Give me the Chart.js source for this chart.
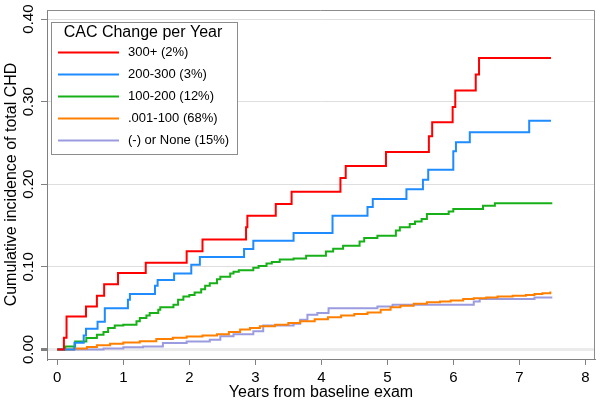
<!DOCTYPE html>
<html>
<head>
<meta charset="utf-8">
<script src="https://cdn.jsdelivr.net/npm/chart.js@4/dist/chart.umd.min.js"></script>
<style>
  html, body { margin: 0; padding: 0; background: #fff; }
  #wrap { width: 601px; height: 404px; }
</style>
</head>
<body>
<div id="wrap"><canvas id="myChart" width="601" height="404"></canvas></div>
<script>
// Series: time (years) and cumulative incidence after each step
const seriesLabels = ["300+ (2%)", "200-300 (3%)", "100-200 (12%)", ".001-100 (68%)", "(-) or None (15%)"];
const seriesColors = ["#ff0000", "#1e8cff", "#18b018", "#ff8000", "#9b9be0"];

const redTimes = [0, 0.10, 0.14, 0.435, 0.60, 0.71, 0.92, 1.34, 1.96, 2.20, 2.86, 2.88, 3.31, 3.55, 4.29, 4.37, 4.98, 5.63, 5.68, 5.99, 6.03, 6.34, 6.39, 7.48];
const redValues = [0, 0.014, 0.040, 0.052, 0.065, 0.079, 0.0925, 0.105, 0.119, 0.133, 0.148, 0.162, 0.176, 0.191, 0.2075, 0.222, 0.239, 0.258, 0.275, 0.2935, 0.3135, 0.333, 0.353, 0.353];

const blueTimes = [0, 0.26, 0.40, 0.435, 0.61, 0.72, 1.07, 1.10, 1.48, 1.52, 1.77, 2.03, 2.16, 2.83, 2.97, 3.58, 4.17, 4.70, 4.78, 5.29, 5.54, 5.62, 6.00, 6.04, 6.25, 7.15, 7.48];
const blueValues = [0, 0.008, 0.017, 0.025, 0.0335, 0.050, 0.060, 0.067, 0.077, 0.084, 0.092, 0.1025, 0.112, 0.1215, 0.1315, 0.141, 0.162, 0.1725, 0.182, 0.194, 0.2055, 0.2175, 0.240, 0.251, 0.263, 0.277, 0.277];

const greenTimes = [0, 0.12, 0.27, 0.44, 0.60, 0.70, 0.77, 0.87, 1.00, 1.20, 1.25, 1.35, 1.40, 1.53, 1.56, 1.76, 1.83, 1.91, 2.00, 2.08, 2.18, 2.24, 2.31, 2.42, 2.47, 2.62, 2.67, 2.75, 2.97, 3.05, 3.17, 3.25, 3.37, 3.58, 3.77, 4.07, 4.18, 4.33, 4.58, 4.65, 4.85, 5.13, 5.19, 5.34, 5.42, 5.52, 5.60, 5.93, 6.00, 6.45, 6.63, 7.50];
const greenValues = [0, 0.0036, 0.0097, 0.0138, 0.0178, 0.021, 0.026, 0.029, 0.030, 0.034, 0.038, 0.041, 0.044, 0.048, 0.051, 0.054, 0.060, 0.064, 0.066, 0.069, 0.073, 0.077, 0.080, 0.085, 0.088, 0.092, 0.094, 0.096, 0.099, 0.101, 0.104, 0.106, 0.109, 0.110, 0.1134, 0.1186, 0.122, 0.1255, 0.1308, 0.135, 0.1376, 0.144, 0.148, 0.152, 0.155, 0.158, 0.164, 0.167, 0.170, 0.174, 0.177, 0.177];

const orangeTimes = [0, 0.25, 0.45, 0.60, 0.80, 1.00, 1.25, 1.50, 1.75, 1.96, 2.20, 2.42, 2.60, 2.77, 2.92, 3.07, 3.30, 3.50, 3.68, 3.90, 4.10, 4.30, 4.50, 4.70, 4.90, 5.05, 5.20, 5.40, 5.60, 5.80, 5.96, 6.15, 6.31, 6.50, 6.67, 6.90, 7.10, 7.23, 7.35, 7.47];
const orangeValues = [0, 0.001, 0.003, 0.005, 0.007, 0.0085, 0.010, 0.0125, 0.014, 0.0155, 0.017, 0.0185, 0.021, 0.024, 0.026, 0.028, 0.030, 0.032, 0.034, 0.0365, 0.039, 0.041, 0.043, 0.0448, 0.048, 0.051, 0.053, 0.0553, 0.057, 0.058, 0.0593, 0.061, 0.062, 0.063, 0.064, 0.065, 0.066, 0.067, 0.068, 0.070];

const purpleTimes = [0, 0.70, 1.00, 1.30, 1.60, 1.96, 2.31, 2.47, 2.67, 2.97, 3.12, 3.58, 3.68, 3.79, 3.94, 4.11, 4.85, 5.08, 6.31, 6.40, 7.23, 7.50];
const purpleValues = [0, 0.001, 0.0025, 0.0036, 0.0077, 0.0097, 0.0117, 0.016, 0.0185, 0.022, 0.029, 0.031, 0.036, 0.042, 0.044, 0.050, 0.052, 0.054, 0.058, 0.061, 0.063, 0.063];

// Axis ticks
const xTicks = [0, 1, 2, 3, 4, 5, 6, 7, 8];
const yTicks = [0, 0.1, 0.2, 0.3, 0.4];

const legendTitle = "CAC Change per Year";
const xTitle = "Years from baseline exam";
const yTitle = "Cumulative incidence of total CHD";

const allTimes = [redTimes, blueTimes, greenTimes, orangeTimes, purpleTimes];
const allValues = [redValues, blueValues, greenValues, orangeValues, purpleValues];

// Build datasets (step lines)
const datasets = [];
for (let i = 0; i < seriesLabels.length; i++) {
  datasets.push({
    label: seriesLabels[i],
    data: allTimes[i].map((t, j) => ({ x: t, y: allValues[i][j] })),
    borderColor: seriesColors[i],
    backgroundColor: seriesColors[i],
    borderWidth: 2,
    pointRadius: 0,
    stepped: "before",
    fill: false,
  });
}

const FONT = "'Liberation Sans', Arial, sans-serif";
Chart.defaults.font.family = FONT;
Chart.defaults.color = "#000";

// Gray frame on top / right of the plot region
const frame = {
  id: "frame",
  beforeDatasetsDraw(chart) {
    const { ctx, chartArea: a } = chart;
    ctx.save();
    ctx.strokeStyle = "#8c8c8c";
    ctx.lineWidth = 1;
    ctx.beginPath();
    ctx.moveTo(a.left, a.top + 0.5);
    ctx.lineTo(a.right - 0.5, a.top + 0.5);
    ctx.lineTo(a.right - 0.5, a.bottom);
    ctx.stroke();
    ctx.restore();
  },
};

// Boxed legend inside the plot
const legendBox = {
  id: "legendBox",
  afterDatasetsDraw(chart) {
    const { ctx, chartArea: a } = chart;
    const left = a.left + 4, top = a.top + 12, w = 186, h = 132;
    ctx.save();
    ctx.fillStyle = "#fff";
    ctx.fillRect(left, top, w, h);
    ctx.strokeStyle = "#8c8c8c";
    ctx.lineWidth = 1;
    ctx.strokeRect(left + 0.5, top + 0.5, w, h);
    ctx.fillStyle = "#000";
    ctx.font = "16px " + FONT;
    ctx.textAlign = "center";
    ctx.textBaseline = "alphabetic";
    ctx.fillText(legendTitle, left + w / 2 - 1, top + 15);
    ctx.font = "13px " + FONT;
    ctx.textAlign = "left";
    ctx.textBaseline = "middle";
    chart.data.datasets.forEach((ds, i) => {
      const y = top + 30.5 + i * 22;
      ctx.strokeStyle = ds.borderColor;
      ctx.lineWidth = 2;
      ctx.beginPath();
      ctx.moveTo(left + 7, y);
      ctx.lineTo(left + 68, y);
      ctx.stroke();
      ctx.fillText(ds.label, left + 77, y);
    });
    ctx.restore();
  },
};

const ctx = document.getElementById("myChart").getContext("2d");
const myChart = new Chart(ctx, {
  type: "line",
  data: { datasets: datasets },
  options: {
    responsive: false,
    animation: false,
    layout: { padding: { top: 10, right: 6, left: 0, bottom: 0 } },
    plugins: { legend: { display: false }, tooltip: { enabled: false } },
    scales: {
      x: {
        type: "linear",
        min: -0.156,
        max: 8.147,
        afterBuildTicks: (scale) => { scale.ticks = xTicks.map((v) => ({ value: v })); },
        afterFit: (scale) => { scale.height = 45; },
        ticks: { font: { size: 15 }, padding: 4, maxRotation: 0, autoSkip: false },
        grid: { drawOnChartArea: false, tickLength: 6, tickColor: "#808080" },
        border: { color: "#808080", width: 1 },
        title: { display: true, text: xTitle, font: { size: 16 }, padding: { top: 0, bottom: 2 } },
      },
      y: {
        type: "linear",
        min: -0.0116,
        max: 0.411,
        afterBuildTicks: (scale) => { scale.ticks = yTicks.map((v) => ({ value: v })); },
        afterFit: (scale) => { scale.width = 47; },
        ticks: {
          font: { size: 15 },
          minRotation: 90,
          maxRotation: 90,
          crossAlign: "center",
          padding: -2,
          callback: (v) => Number(v).toFixed(2),
        },
        grid: {
          tickLength: 6,
          tickColor: "#808080",
          color: (c) => (c.tick && c.tick.value === 0 ? "#ebebeb" : "#dedede"),
          lineWidth: (c) => (c.tick && c.tick.value === 0 ? 3 : 1),
        },
        border: { color: "#808080", width: 1 },
        title: { display: true, text: yTitle, font: { size: 16 }, padding: { top: 2, bottom: 0 } },
      },
    },
  },
  plugins: [frame, legendBox],
});
</script>
</body>
</html>
